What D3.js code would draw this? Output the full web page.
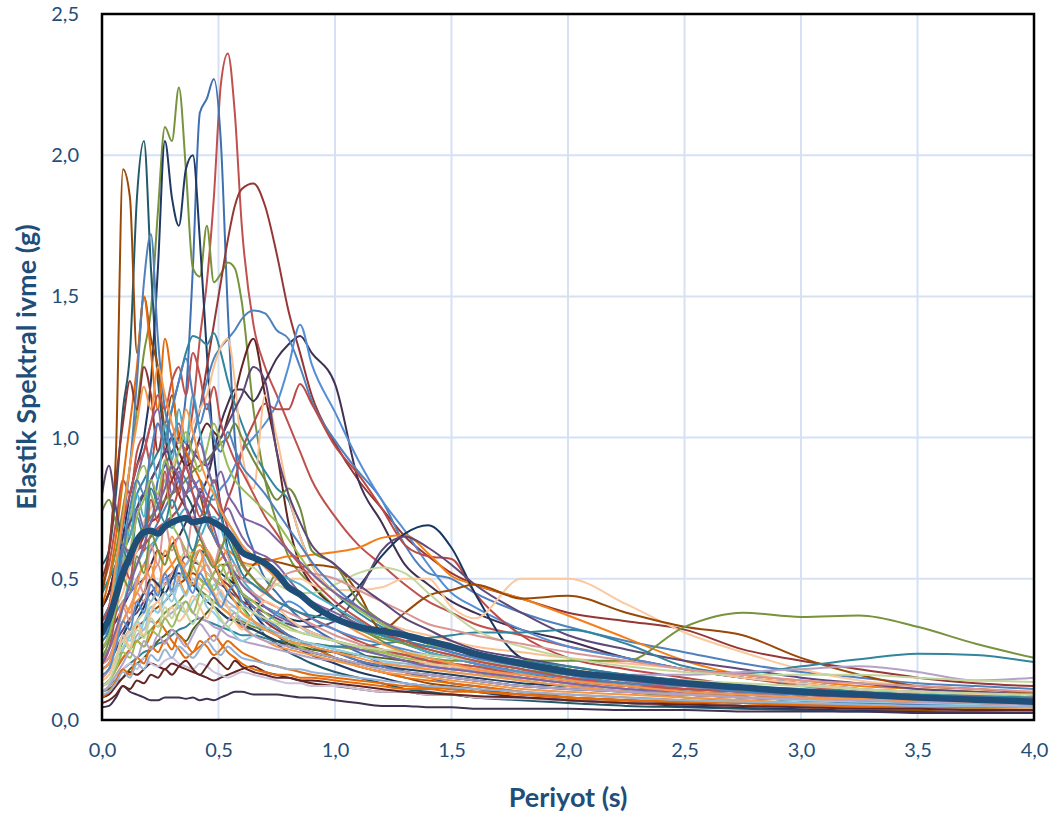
<!DOCTYPE html>
<html>
<head>
<meta charset="utf-8">
<script src="https://cdn.jsdelivr.net/npm/d3@7/dist/d3.min.js"></script>
<style>
  html, body { margin: 0; padding: 0; background: #ffffff; }
  svg { display: block; }
</style>
</head>
<body>
<svg id="chart" width="1061" height="821"></svg>
<script>
// Periods (s) shared by every response spectrum
const periods = [0, 0.03, 0.06, 0.09, 0.12, 0.15, 0.18, 0.21, 0.24, 0.27, 0.30,
  0.33, 0.36, 0.39, 0.42, 0.45, 0.48, 0.51, 0.54, 0.57, 0.60, 0.65,
  0.70, 0.75, 0.80, 0.85, 0.90, 1.0, 1.1, 1.2, 1.3, 1.4, 1.5,
  1.6, 1.8, 2.0, 2.25, 2.5, 2.75, 3.0, 3.25, 3.5, 3.75, 4.0];

// Spectral accelerations (g) of the individual records, one row per record
const spectra = [
  [.48,.55,.70,.85,.80,.95,1.0,.90,1.05,.95,.85, .80,.95,1.1,1.35,1.55,1.85,2.25,2.36,2.15,1.75,1.40, 1.25,1.15,1.05,.95,.85,.72,.62,.55,.48,.42,.38, .34,.30,.26,.22,.18,.15,.12,.10,.09,.08,.07],
  [.40,.45,.55,.60,.65,.75,.80,.70,.85,.90,.95, 1.0,1.15,1.6,2.15,2.2,2.27,2.05,1.45,1.0,.75,.60, .50,.45,.40,.36,.33,.28,.24,.20,.17,.15,.13, .12,.10,.08,.07,.06,.05,.045,.04,.035,.03,.03],
  [.45,.50,.60,.75,.90,1.1,1.3,1.45,1.8,2.1,2.05, 2.24,1.95,1.6,1.57,1.75,1.55,1.58,1.62,1.6,1.48,1.1, .85,.70,.58,.52,.48,.40,.33,.28,.24,.21,.19, .17,.14,.12,.10,.08,.07,.06,.05,.045,.04,.035],
  [.55,.60,.80,1.1,1.3,1.85,2.05,1.6,1.2,1.0,.90, .85,.80,.75,.65,.60,.55,.50,.45,.42,.40,.35, .30,.27,.24,.22,.20,.17,.15,.13,.11,.10,.09, .08,.07,.06,.05,.045,.04,.035,.03,.03,.025,.025],
  [.40,.45,.55,.65,.80,.90,1.0,1.2,1.6,2.05,1.85, 1.75,1.95,2.0,1.7,1.3,.95,.75,.60,.50,.45,.38, .33,.30,.27,.25,.23,.20,.17,.15,.13,.12,.11, .10,.08,.07,.06,.05,.045,.04,.035,.03,.03,.025],
  [.35,.40,.45,.50,.55,.60,.65,.70,.72,.78,.85, .90,.95,1.0,1.1,1.25,1.4,1.55,1.7,1.82,1.88,1.9, 1.82,1.65,1.45,1.30,1.15,.98,.85,.75,.65,.58,.52, .48,.43,.38,.35,.32,.25,.21,.18,.15,.13,.12],
  [.45,.60,.95,1.95,1.85,1.30,1.50,1.35,1.25,1.05,1.15, 1.0,.95,.85,.80,.70,.65,.60,.55,.48,.45,.40, .36,.33,.30,.28,.26,.22,.19,.17,.15,.13,.12, .11,.09,.08,.07,.06,.05,.045,.04,.035,.03,.03],
  [.30,.32,.35,.40,.45,.48,.50,.55,.60,.58,.62, .65,.70,.75,.80,.85,.95,1.05,1.12,1.17,1.17,1.13, 1.20,1.28,1.33,1.36,1.30,1.19,.85,.70,.55,.48,.42, .38,.32,.28,.22,.18,.15,.13,.11,.10,.09,.08],
  [.35,.40,.45,.50,.55,.60,.62,.65,.70,.75,.80, .85,.90,1.0,1.1,1.2,1.28,1.32,1.35,1.38,1.42,1.45, 1.44,1.38,1.35,1.25,1.13,.99,.88,.78,.62,.52,.50, .45,.38,.33,.28,.24,.20,.17,.15,.13,.12,.11],
  [.30,.32,.38,.42,.45,.50,.55,.60,.65,.70,.72, .75,.80,.82,.85,.80,.78,.82,.85,.90,.95,1.0, 1.05,1.12,1.25,1.40,1.26,1.09,.92,.78,.67,.55,.45, .40,.32,.26,.22,.18,.15,.13,.11,.10,.09,.08],
  [.40,.45,.55,.60,.70,.75,.80,.85,.90,.95,1.0, .95,.90,.92,1.0,1.05,1.02,1.0,1.07,1.15,1.25,1.35, 1.15,.95,.70,.55,.48,.40,.35,.30,.27,.24,.22, .20,.17,.14,.12,.10,.09,.08,.07,.06,.05,.05],
  [.30,.35,.42,.50,.55,.60,.62,.65,.68,.70,.72, .75,.80,.85,.80,.78,.75,.72,.78,.85,.95,1.05, 1.12,1.10,1.10,1.19,1.12,.97,.87,.75,.62,.58,.57, .45,.30,.22,.18,.15,.12,.10,.09,.08,.07,.06],
  [.45,.50,.55,.60,.70,.80,.85,.90,.95,1.0,1.1, 1.2,1.3,1.36,1.35,1.33,1.37,1.30,1.20,1.12,1.05,.95, .88,.82,.78,.65,.55,.45,.38,.33,.30,.28,.26, .22,.18,.15,.12,.10,.09,.08,.07,.06,.05,.05],
  [.30,.35,.40,.45,.55,.60,.70,.75,.80,.85,.90, .95,1.0,1.05,1.1,1.15,1.25,1.32,1.35,1.2,.95,.82, 1.15,1.0,.80,.65,.55,.45,.40,.35,.32,.30,.28, .26,.24,.22,.20,.18,.15,.13,.11,.10,.09,.08],
  [.40,.50,.65,.85,1.05,1.25,1.50,1.30,1.10,1.35,1.20, 1.0,.95,.90,.85,.75,.65,.60,.55,.50,.45,.40, .36,.33,.30,.28,.26,.22,.19,.17,.15,.14,.13, .12,.10,.09,.08,.07,.06,.05,.045,.04,.035,.03],
  [.20,.25,.30,.35,.40,.42,.45,.50,.48,.52,.55, .58,.55,.60,.62,.58,.55,.57,.60,.58,.56,.55, .56,.57,.58,.58,.585,.595,.61,.645,.655,.59,.51, .48,.43,.37,.29,.21,.16,.14,.12,.11,.10,.09],
  [.15,.18,.22,.28,.32,.35,.40,.45,.42,.48,.50, .52,.50,.55,.60,.58,.55,.52,.50,.48,.45,.42, .40,.38,.36,.35,.36,.40,.47,.58,.66,.69,.61, .45,.22,.18,.15,.13,.11,.09,.08,.07,.06,.06],
  [.20,.22,.28,.32,.36,.38,.42,.45,.48,.50,.52, .55,.58,.56,.55,.52,.50,.48,.46,.44,.42,.40, .38,.36,.34,.33,.33,.35,.45,.60,.65,.61,.55, .48,.38,.30,.25,.21,.18,.15,.13,.11,.10,.09],
  [.18,.20,.25,.28,.32,.35,.38,.40,.42,.45,.48, .50,.52,.50,.48,.46,.44,.42,.40,.40,.40,.42, .45,.48,.50,.50,.48,.46,.46,.47,.50,.50,.40, .36,.50,.50,.41,.31,.24,.18,.14,.12,.11,.10],
  [.15,.18,.22,.25,.30,.33,.35,.38,.40,.42,.45, .48,.50,.52,.50,.48,.52,.55,.55,.52,.50,.55, .57,.56,.55,.54,.55,.54,.45,.32,.38,.44,.46, .48,.43,.44,.38,.33,.30,.22,.16,.12,.11,.095],
  [.12,.14,.18,.22,.25,.28,.30,.32,.35,.38,.40, .42,.45,.48,.46,.44,.42,.40,.38,.36,.35,.33, .32,.30,.29,.28,.27,.26,.25,.24,.23,.22,.21, .21,.21,.21,.21,.33,.38,.365,.37,.33,.27,.22],
  [.10,.12,.15,.18,.20,.22,.24,.25,.27,.28,.30, .32,.33,.35,.36,.35,.34,.33,.32,.31,.30,.30, .29,.28,.28,.27,.27,.26,.26,.27,.28,.29,.30, .31,.31,.32,.27,.19,.165,.19,.215,.235,.23,.205],
  [.12,.14,.18,.22,.25,.30,.32,.35,.33,.36,.38, .40,.42,.38,.36,.35,.33,.32,.30,.29,.28,.27, .26,.25,.24,.23,.22,.21,.20,.20,.19,.19,.18, .18,.17,.17,.16,.16,.17,.18,.19,.17,.14,.15],
  [.15,.18,.22,.26,.30,.35,.38,.42,.45,.48,.50, .55,.60,.58,.55,.52,.50,.48,.50,.52,.55,.54, .50,.48,.46,.45,.45,.48,.52,.54,.52,.45,.38, .32,.26,.22,.19,.17,.16,.16,.16,.15,.14,.135],
  [.74,.78,.70,.62,.60,.65,.68,.72,.75,.78,.80, .82,.85,.88,.90,.92,.95,.98,1.0,1.05,1.0,.92, .85,.78,.82,.75,.60,.55,.42,.35,.30,.27,.25, .23,.20,.18,.15,.13,.11,.10,.09,.08,.07,.065],
  [.25,.30,.40,.55,.70,.85,.95,1.05,1.1,.95,1.0, 1.05,.90,.85,.80,.75,.70,.72,.75,.70,.65,.60, .58,.55,.50,.45,.42,.38,.34,.30,.28,.26,.24, .22,.19,.17,.14,.12,.10,.09,.08,.07,.065,.06],
  [.22,.25,.30,.40,.50,.55,.60,.62,.65,.70,.68, .72,.75,.70,.65,.70,.72,.68,.60,.55,.50,.45, .40,.38,.35,.33,.31,.28,.25,.23,.21,.19,.18, .17,.15,.13,.11,.09,.08,.07,.065,.06,.055,.05],
  [.18,.20,.25,.30,.35,.40,.45,.42,.48,.50,.45, .50,.55,.58,.60,.55,.50,.45,.42,.40,.38,.35, .33,.31,.30,.28,.27,.25,.23,.21,.20,.19,.18, .17,.15,.13,.11,.10,.09,.08,.075,.07,.065,.06],
  [.20,.22,.28,.35,.40,.45,.42,.50,.55,.48,.52, .55,.50,.48,.52,.55,.50,.48,.52,.55,.50,.48, .45,.50,.52,.53,.52,.50,.46,.42,.38,.34,.32, .30,.27,.24,.21,.18,.16,.14,.13,.12,.11,.10],
  [.12,.14,.18,.25,.30,.28,.35,.40,.38,.42,.45, .40,.38,.42,.45,.40,.38,.35,.33,.30,.28,.30, .32,.34,.35,.33,.30,.28,.26,.25,.23,.22,.20, .19,.17,.15,.13,.11,.10,.09,.085,.08,.075,.07],
  [.10,.11,.13,.15,.18,.20,.22,.25,.28,.30,.32, .30,.28,.32,.35,.38,.40,.38,.36,.35,.33,.32, .30,.28,.27,.26,.25,.24,.23,.22,.21,.20,.19, .18,.16,.14,.12,.10,.09,.08,.07,.065,.06,.055],
  [.08,.09,.12,.15,.17,.16,.18,.20,.19,.18,.20, .19,.18,.17,.16,.15,.14,.15,.16,.17,.18,.19, .17,.16,.15,.14,.13,.12,.11,.10,.10,.09,.09, .08,.08,.07,.06,.055,.05,.045,.04,.04,.035,.035],
  [.045,.05,.08,.12,.10,.09,.08,.07,.07,.08,.08, .08,.075,.08,.07,.075,.07,.08,.09,.10,.10,.09, .09,.09,.085,.08,.08,.07,.06,.05,.05,.045,.045, .04,.04,.04,.035,.035,.03,.03,.03,.025,.025,.025],
  [.12,.13,.15,.18,.20,.18,.22,.20,.19,.21,.22, .20,.19,.18,.20,.19,.17,.16,.15,.16,.17,.16, .15,.14,.13,.13,.12,.12,.11,.10,.10,.09,.09, .08,.075,.07,.06,.055,.05,.045,.04,.04,.035,.035],
  [.20,.25,.30,.35,.40,.45,.50,.55,.45,.60,.55, .50,.45,.55,.60,.50,.45,.40,.38,.35,.33,.30, .28,.26,.25,.24,.23,.21,.19,.17,.16,.15,.14, .13,.11,.10,.09,.08,.07,.06,.055,.05,.045,.045],
  [.12,.14,.18,.22,.25,.28,.26,.30,.35,.32,.28, .25,.22,.24,.26,.28,.30,.27,.24,.22,.20,.18, .17,.16,.16,.15,.15,.14,.13,.12,.11,.11,.10, .10,.09,.08,.07,.065,.06,.055,.05,.05,.045,.045],
  [.25,.30,.40,.55,.70,.85,.90,.80,.75,.85,.70, .65,.60,.55,.50,.48,.52,.55,.50,.45,.40,.35, .32,.30,.28,.26,.24,.22,.20,.18,.17,.16,.15, .14,.12,.11,.10,.09,.08,.07,.065,.06,.055,.05],
  [.18,.20,.25,.30,.35,.40,.45,.50,.48,.45,.50, .55,.52,.48,.45,.42,.40,.38,.36,.35,.34,.32, .30,.28,.26,.25,.24,.22,.20,.19,.18,.17,.16, .15,.13,.12,.10,.09,.08,.07,.065,.06,.055,.05],
  [.50,.60,.85,1.05,1.20,1.10,1.25,1.15,.95,1.05,.90, .80,.75,.70,.65,.60,.55,.50,.48,.45,.42,.40, .35,.32,.30,.28,.26,.24,.21,.19,.17,.16,.15, .14,.12,.11,.10,.09,.08,.075,.07,.065,.06,.055],
  [.35,.40,.55,.70,.90,1.20,1.55,1.72,1.35,1.10,1.0, .90,.85,.80,.75,.70,.65,.60,.55,.50,.45,.40, .36,.33,.30,.28,.26,.24,.21,.19,.17,.16,.15, .14,.12,.11,.10,.09,.08,.07,.06,.055,.05,.05],
  [.80,.90,.75,.65,.70,.75,.80,.85,.90,.95,.95, 1.0,.98,.95,.92,.90,.95,1.0,1.05,1.10,1.15,1.25, 1.20,.95,.80,.70,.62,.55,.48,.42,.36,.32,.28, .25,.22,.19,.16,.14,.12,.10,.09,.08,.075,.07],
  [.10,.12,.20,.30,.28,.35,.32,.40,.38,.45,.42, .48,.44,.50,.46,.42,.48,.44,.40,.38,.36,.34, .32,.30,.29,.28,.27,.25,.23,.21,.19,.18,.17, .16,.14,.12,.10,.09,.08,.07,.065,.06,.055,.05],
  [.15,.18,.28,.40,.35,.50,.45,.62,.55,.70,.60, .65,.58,.72,.66,.60,.55,.62,.58,.52,.48,.45, .42,.40,.38,.36,.34,.30,.27,.24,.22,.20,.19, .18,.15,.13,.11,.10,.09,.08,.07,.065,.06,.055],
  [.25,.30,.45,.62,.58,.75,.68,.85,.78,.92,.80, .88,.75,.70,.82,.76,.68,.60,.55,.52,.48,.44, .40,.37,.35,.33,.31,.28,.25,.23,.21,.19,.18, .17,.15,.13,.11,.10,.09,.08,.07,.065,.06,.055],
  [.14,.16,.22,.30,.26,.34,.30,.38,.42,.36,.40, .35,.38,.44,.40,.36,.42,.46,.40,.35,.32,.38, .42,.40,.36,.33,.31,.28,.26,.24,.22,.20,.19, .18,.16,.14,.12,.11,.10,.09,.08,.075,.07,.065],
  [.08,.10,.14,.18,.16,.22,.20,.26,.24,.28,.25, .30,.27,.24,.28,.26,.23,.25,.28,.26,.24,.22, .20,.19,.18,.17,.16,.15,.14,.13,.12,.115,.11, .10,.09,.08,.07,.065,.06,.055,.05,.05,.045,.045],
  [.30,.35,.50,.70,.65,.80,.72,.95,.85,1.05,.92, 1.10,.98,1.15,1.02,.90,.82,.75,.70,.66,.62,.58, .55,.52,.50,.48,.45,.40,.35,.30,.27,.24,.22, .20,.17,.15,.12,.11,.10,.09,.08,.07,.065,.06],
  [.12,.14,.18,.24,.22,.28,.26,.32,.30,.36,.33, .38,.42,.38,.45,.50,.46,.52,.56,.50,.45,.42, .38,.35,.33,.31,.30,.28,.26,.24,.22,.21,.20, .19,.17,.15,.13,.12,.11,.10,.09,.085,.08,.075],
  [.18,.20,.30,.42,.38,.48,.55,.50,.60,.55,.65, .58,.52,.48,.55,.60,.56,.50,.46,.42,.38,.35, .32,.30,.28,.27,.26,.24,.22,.20,.19,.18,.17, .16,.14,.12,.10,.09,.08,.075,.07,.065,.06,.055],
  [.20,.25,.38,.55,.50,.65,.60,.78,.70,.88,.75, .82,.90,.80,.72,.78,.85,.76,.68,.62,.56,.50, .46,.42,.40,.38,.36,.32,.28,.25,.23,.21,.20, .19,.16,.14,.12,.11,.10,.09,.08,.075,.07,.065],
  [.10,.12,.16,.20,.24,.22,.28,.25,.30,.27,.32, .29,.26,.30,.34,.31,.28,.32,.35,.38,.34,.30, .28,.27,.26,.25,.24,.22,.20,.18,.17,.16,.15, .14,.12,.11,.10,.09,.08,.075,.07,.065,.06,.055],
  [.22,.28,.40,.50,.46,.58,.52,.66,.60,.55,.62, .56,.50,.58,.64,.58,.54,.60,.66,.60,.55,.50, .46,.52,.48,.44,.40,.36,.32,.29,.27,.25,.23, .21,.18,.16,.14,.12,.11,.10,.09,.085,.08,.075],
  [.06,.07,.09,.12,.11,.14,.13,.16,.15,.18,.16, .19,.21,.18,.16,.19,.22,.20,.18,.21,.19,.17, .16,.15,.15,.14,.14,.13,.12,.11,.10,.095,.09, .085,.08,.07,.06,.055,.05,.045,.04,.04,.035,.035],
  [.16,.18,.26,.35,.32,.42,.38,.48,.44,.52,.46, .55,.50,.45,.52,.48,.44,.40,.45,.48,.42,.38, .35,.38,.42,.40,.36,.32,.29,.27,.25,.23,.22, .20,.17,.15,.13,.12,.11,.10,.09,.085,.08,.075],
  [.28,.32,.46,.60,.55,.72,.65,.82,.76,.70,.78, .72,.66,.60,.68,.74,.80,.72,.64,.58,.52,.48, .45,.42,.40,.38,.37,.35,.32,.30,.28,.26,.25, .24,.21,.19,.16,.14,.12,.11,.10,.09,.085,.08],
  [.12,.14,.20,.28,.25,.32,.29,.36,.33,.40,.36, .42,.38,.34,.40,.44,.40,.36,.33,.36,.40,.38, .36,.34,.32,.31,.30,.28,.26,.25,.24,.23,.22, .21,.19,.17,.15,.14,.13,.12,.11,.10,.095,.09],
  [.09,.10,.13,.17,.15,.20,.18,.23,.21,.25,.22, .26,.24,.22,.25,.28,.25,.23,.26,.24,.22,.21, .20,.19,.18,.18,.17,.16,.15,.14,.13,.12,.115, .11,.10,.09,.08,.07,.065,.06,.055,.05,.05,.045],
  [.35,.40,.55,.70,.80,.90,.95,1.05,1.15,1.10,1.20, 1.25,1.15,1.30,1.22,1.10,1.18,1.05,.98,.92,.88,.80, .72,.66,.60,.55,.50,.42,.36,.31,.28,.25,.23, .21,.18,.15,.13,.11,.10,.09,.08,.075,.07,.065],
  [.30,.35,.45,.60,.75,.85,.80,.95,1.05,.98,1.10, 1.20,1.28,1.15,1.05,1.12,1.0,.95,1.02,.96,.90,.85, .80,.74,.68,.62,.56,.47,.40,.34,.30,.27,.24, .22,.19,.16,.13,.12,.10,.09,.085,.08,.075,.07],
  [.25,.30,.40,.50,.60,.72,.78,.85,.80,.92,.88, .95,1.02,.94,.88,.96,1.05,.98,.90,.85,.82,.78, .74,.70,.64,.58,.52,.45,.39,.34,.30,.27,.25, .23,.20,.17,.14,.12,.11,.10,.09,.08,.075,.07],
  [.20,.25,.32,.40,.48,.55,.62,.70,.76,.82,.90, .86,.80,.92,.98,.90,.84,.88,.80,.76,.72,.70, .68,.64,.60,.56,.52,.45,.40,.35,.31,.28,.25, .23,.20,.17,.14,.12,.11,.10,.09,.085,.08,.075],
  [.30,.38,.55,.72,.90,1.05,1.18,1.10,1.25,1.15,1.05, .98,1.10,1.02,.92,.85,.80,.74,.70,.66,.62,.58, .54,.50,.47,.44,.41,.36,.31,.27,.24,.22,.20, .18,.16,.14,.12,.10,.09,.08,.075,.07,.065,.06]
];

// Mean spectrum of the record set (g)
const meanSpectrum = [.31,.36,.44,.52,.58,.635,.665,.67,.66,.685,.70,
  .71,.715,.70,.705,.71,.70,.685,.665,.63,.595,.575,
  .555,.52,.47,.445,.41,.36,.33,.315,.30,.28,.26,
  .235,.20,.17,.15,.13,.115,.10,.09,.08,.072,.065];

const xTicks = [0, 0.5, 1.0, 1.5, 2.0, 2.5, 3.0, 3.5, 4.0];
const yTicks = [0, 0.5, 1.0, 1.5, 2.0, 2.5];

// Line colours, one per record
const palette = ["#C0504D", "#3F70B0", "#77933C", "#215968", "#1F3864", "#953735",
  "#984807", "#403152", "#4F81BD", "#558ED5", "#632523", "#B94A48", "#31859C",
  "#FAC090", "#E46C0A", "#F57F17", "#17375E", "#5F497A", "#FBC99F", "#984807",
  "#77933C", "#31859C", "#B3A2C7", "#C3D69B", "#71893F", "#8064A2", "#4BACC6",
  "#95B3D7", "#D99694", "#93CDDD", "#4F6228", "#632523", "#403152", "#CCC1DA",
  "#F79646", "#E46C0A", "#9BBB59", "#254061", "#8C3836", "#4F81BD", "#5C4776",
  "#93CDDD", "#D99694", "#8064A2", "#FAC090", "#E46C0A", "#4BACC6", "#9BBB59",
  "#F79646", "#C0504D", "#B3A2C7", "#77933C", "#632523", "#558ED5", "#31859C",
  "#C3D69B", "#95B3D7", "#C0504D", "#4F81BD", "#9BBB59", "#8064A2", "#F79646"];

const W = 1061, H = 821;
const margin = { left: 102, top: 14, right: 27, bottom: 101 };
const iw = W - margin.left - margin.right;
const ih = H - margin.top - margin.bottom;
const textColor = "#1F4E79";
const fontFamily = "Lato, 'Open Sans', sans-serif";

const locale = d3.formatLocale({ decimal: ",", thousands: ".", grouping: [3], currency: ["", ""] });
const fmt = locale.format(".1f");

const svg = d3.select("#chart");
svg.append("rect").attr("width", W).attr("height", H).attr("fill", "#ffffff");

const x = d3.scaleLinear().domain([0, 4]).range([0, iw]);
const y = d3.scaleLinear().domain([0, 2.5]).range([ih, 0]);

const g = svg.append("g").attr("transform", `translate(${margin.left},${margin.top})`);

// grid
g.append("g").selectAll("line").data(xTicks).join("line")
  .attr("x1", d => x(d)).attr("x2", d => x(d)).attr("y1", 0).attr("y2", ih)
  .attr("stroke", "#D6E2F3").attr("stroke-width", 2);
g.append("g").selectAll("line").data(yTicks).join("line")
  .attr("x1", 0).attr("x2", iw).attr("y1", d => y(d)).attr("y2", d => y(d))
  .attr("stroke", "#D6E2F3").attr("stroke-width", 2);

// axes (labels only)
const xAxis = g.append("g").attr("transform", `translate(0,${ih})`)
  .call(d3.axisBottom(x).tickValues(xTicks).tickFormat(fmt).tickSize(0).tickPadding(23));
const yAxis = g.append("g")
  .call(d3.axisLeft(y).tickValues(yTicks).tickFormat(fmt).tickSize(0).tickPadding(23));
[xAxis, yAxis].forEach(a => {
  a.select(".domain").remove();
  a.selectAll("text").attr("fill", textColor).attr("font-size", 20)
    .attr("font-family", fontFamily);
});

g.append("clipPath").attr("id", "plotclip")
  .append("rect").attr("x", 0).attr("y", 0).attr("width", iw).attr("height", ih);

const line = d3.line()
  .x((d, i) => x(periods[i]))
  .y(d => y(d))
  .curve(d3.curveMonotoneX);

const lines = g.append("g").attr("clip-path", "url(#plotclip)");
lines.selectAll("path.rec").data(spectra).join("path")
  .attr("class", "rec")
  .attr("d", d => line(d))
  .attr("fill", "none")
  .attr("stroke", (d, i) => palette[i % palette.length])
  .attr("stroke-width", 2)
  .attr("stroke-linejoin", "round");

lines.append("path")
  .attr("d", line(meanSpectrum))
  .attr("fill", "none")
  .attr("stroke", "#1F4E79")
  .attr("stroke-width", 6.5)
  .attr("stroke-linejoin", "round")
  .attr("stroke-linecap", "round");

// plot frame
g.append("rect").attr("x", 0).attr("y", 0).attr("width", iw).attr("height", ih)
  .attr("fill", "none").attr("stroke", "#000000").attr("stroke-width", 2.5);

// axis titles
svg.append("text")
  .attr("x", margin.left + iw / 2).attr("y", 807)
  .attr("text-anchor", "middle")
  .attr("font-family", fontFamily)
  .attr("font-weight", "bold").attr("font-size", 27)
  .attr("fill", textColor)
  .text("Periyot (s)");

svg.append("text")
  .attr("transform", `translate(36,${margin.top + ih / 2}) rotate(-90)`)
  .attr("text-anchor", "middle")
  .attr("font-family", fontFamily)
  .attr("font-weight", "bold").attr("font-size", 27)
  .attr("fill", textColor)
  .text("Elastik Spektral ivme (g)");
</script>
</body>
</html>
